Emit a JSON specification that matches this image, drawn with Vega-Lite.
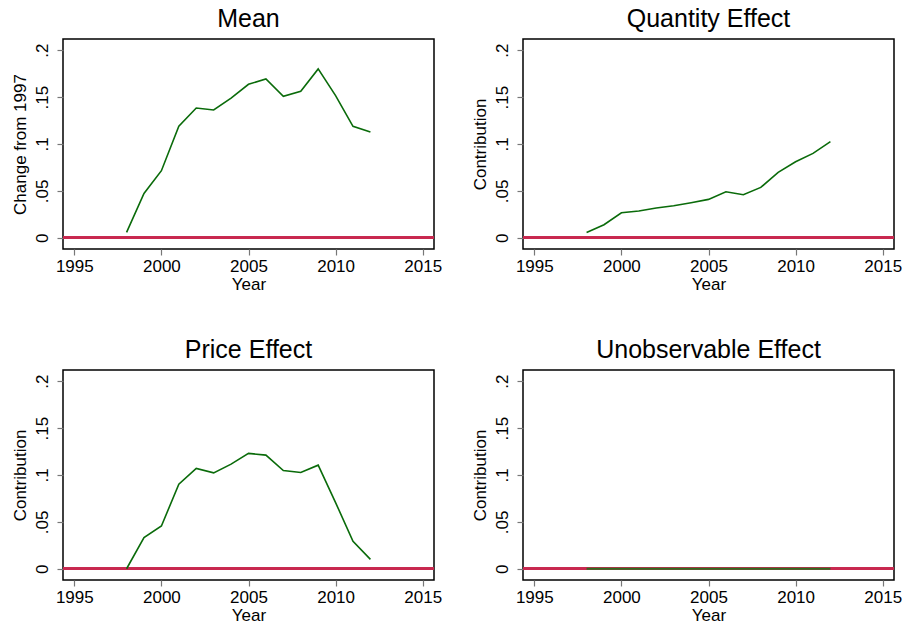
{
  "$schema": "https://vega.github.io/schema/vega-lite/v6.json",
  "background": "white",
  "padding": {"left": 10, "top": 6, "right": 5, "bottom": 5},
  "datasets": {
    "d": [
      {"year": 1998, "mean": 0.0057, "quantity": 0.0057, "price": 0.0, "unobs": 0},
      {"year": 1999, "mean": 0.0473, "quantity": 0.0139, "price": 0.0332, "unobs": 0},
      {"year": 2000, "mean": 0.0715, "quantity": 0.0267, "price": 0.0456, "unobs": 0},
      {"year": 2001, "mean": 0.1189, "quantity": 0.0285, "price": 0.0902, "unobs": 0},
      {"year": 2002, "mean": 0.1384, "quantity": 0.0317, "price": 0.107, "unobs": 0},
      {"year": 2003, "mean": 0.1363, "quantity": 0.0342, "price": 0.1023, "unobs": 0},
      {"year": 2004, "mean": 0.149, "quantity": 0.0374, "price": 0.1116, "unobs": 0},
      {"year": 2005, "mean": 0.1637, "quantity": 0.0409, "price": 0.123, "unobs": 0},
      {"year": 2006, "mean": 0.1694, "quantity": 0.0491, "price": 0.1212, "unobs": 0},
      {"year": 2007, "mean": 0.1509, "quantity": 0.0459, "price": 0.1048, "unobs": 0},
      {"year": 2008, "mean": 0.1562, "quantity": 0.0537, "price": 0.1027, "unobs": 0},
      {"year": 2009, "mean": 0.1801, "quantity": 0.0698, "price": 0.1105, "unobs": 0},
      {"year": 2010, "mean": 0.1516, "quantity": 0.0811, "price": 0.0706, "unobs": 0},
      {"year": 2011, "mean": 0.1189, "quantity": 0.090, "price": 0.0292, "unobs": 0},
      {"year": 2012, "mean": 0.1128, "quantity": 0.1025, "price": 0.010, "unobs": 0}
    ]
  },
  "columns": 2,
  "spacing": {"column": 27, "row": 44},
  "concat": [
    {
      "title": "Mean",
      "width": 371, "height": 210,
      "data": {"name": "d"},
      "layer": [
        {"mark": {"type": "rule", "color": "#c8284f", "strokeWidth": 2}, "encoding": {"y": {"datum": 0, "type": "quantitative", "scale": {"domain": [-0.012, 0.212], "nice": false, "zero": false}, "axis": {"title": "Change from 1997", "values": [0, 0.05, 0.1, 0.15, 0.2]}}}},
        {"mark": {"type": "line", "color": "#0a6b0a", "strokeWidth": 1.6},
         "encoding": {
           "x": {"field": "year", "type": "quantitative", "scale": {"domain": [1994.35, 2015.65], "nice": false, "zero": false}, "axis": {"title": "Year", "values": [1995, 2000, 2005, 2010, 2015]}},
           "y": {"field": "mean", "type": "quantitative"}
         }}
      ]
    },
    {
      "title": "Quantity Effect",
      "width": 371, "height": 210,
      "data": {"name": "d"},
      "layer": [
        {"mark": {"type": "rule", "color": "#c8284f", "strokeWidth": 2}, "encoding": {"y": {"datum": 0, "type": "quantitative", "scale": {"domain": [-0.012, 0.212], "nice": false, "zero": false}, "axis": {"title": "Contribution", "values": [0, 0.05, 0.1, 0.15, 0.2]}}}},
        {"mark": {"type": "line", "color": "#0a6b0a", "strokeWidth": 1.6},
         "encoding": {
           "x": {"field": "year", "type": "quantitative", "scale": {"domain": [1994.35, 2015.65], "nice": false, "zero": false}, "axis": {"title": "Year", "values": [1995, 2000, 2005, 2010, 2015]}},
           "y": {"field": "quantity", "type": "quantitative"}
         }}
      ]
    },
    {
      "title": "Price Effect",
      "width": 371, "height": 210,
      "data": {"name": "d"},
      "layer": [
        {"mark": {"type": "rule", "color": "#c8284f", "strokeWidth": 2}, "encoding": {"y": {"datum": 0, "type": "quantitative", "scale": {"domain": [-0.012, 0.212], "nice": false, "zero": false}, "axis": {"title": "Contribution", "values": [0, 0.05, 0.1, 0.15, 0.2]}}}},
        {"mark": {"type": "line", "color": "#0a6b0a", "strokeWidth": 1.6},
         "encoding": {
           "x": {"field": "year", "type": "quantitative", "scale": {"domain": [1994.35, 2015.65], "nice": false, "zero": false}, "axis": {"title": "Year", "values": [1995, 2000, 2005, 2010, 2015]}},
           "y": {"field": "price", "type": "quantitative"}
         }}
      ]
    },
    {
      "title": "Unobservable Effect",
      "width": 371, "height": 210,
      "data": {"name": "d"},
      "layer": [
        {"mark": {"type": "rule", "color": "#c8284f", "strokeWidth": 2}, "encoding": {"y": {"datum": 0, "type": "quantitative", "scale": {"domain": [-0.012, 0.212], "nice": false, "zero": false}, "axis": {"title": "Contribution", "values": [0, 0.05, 0.1, 0.15, 0.2]}}}},
        {"mark": {"type": "line", "color": "#2e6b1e", "strokeWidth": 2},
         "encoding": {
           "x": {"field": "year", "type": "quantitative", "scale": {"domain": [1994.35, 2015.65], "nice": false, "zero": false}, "axis": {"title": "Year", "values": [1995, 2000, 2005, 2010, 2015]}},
           "y": {"field": "unobs", "type": "quantitative"}
         }}
      ]
    }
  ],
  "config": {
    "font": "Liberation Sans",
    "view": {"stroke": "#000000", "strokeWidth": 1.5},
    "title": {"fontSize": 25, "fontWeight": "normal", "color": "#000000", "anchor": "middle", "frame": "group", "offset": 7, "font": "Liberation Sans"},
    "axis": {
      "grid": false,
      "domain": false,
      "tickColor": "#777777",
      "tickSize": 6,
      "tickWidth": 1.2,
      "labelFontSize": 17,
      "titleFontSize": 17,
      "titleFontWeight": "normal",
      "labelColor": "#000000",
      "titleColor": "#000000",
      "labelFont": "Liberation Sans",
      "titleFont": "Liberation Sans"
    },
    "axisX": {"format": "d", "labelPadding": 3, "titlePadding": 2, "labelFlush": false, "labelOverlap": false},
    "axisY": {"labelAngle": -90, "labelAlign": "center", "labelBaseline": "bottom", "labelPadding": 6, "titlePadding": 4, "labelExpr": "datum.value == 0 ? '0' : replace(toString(datum.value), /^0/, '')"}
  }
}
